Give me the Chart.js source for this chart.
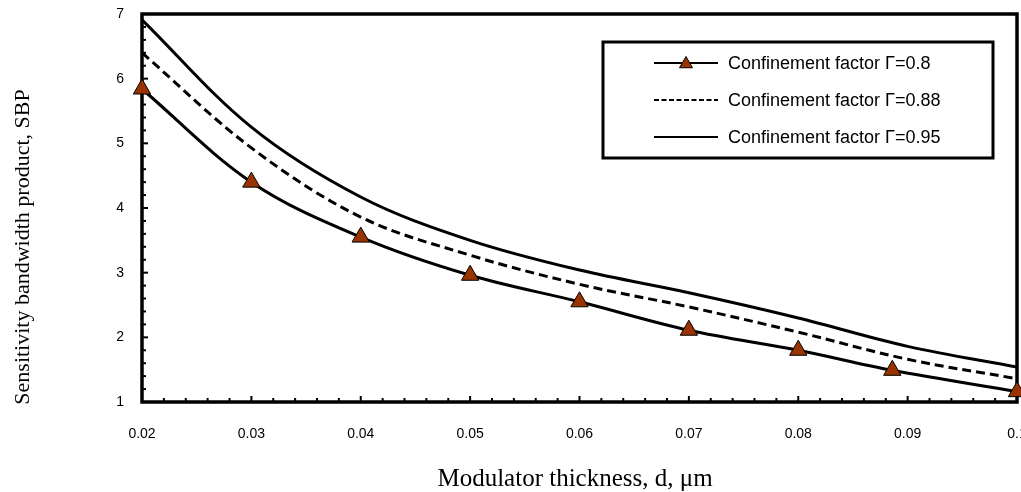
<!DOCTYPE html>
<html>
<head>
<meta charset="utf-8">
<script src="https://cdn.jsdelivr.net/npm/chart.js@4.4.1/dist/chart.umd.min.js"></script>
<style>
  html, body { margin: 0; padding: 0; background: #fff; overflow: hidden; }
  #wrap { position: relative; width: 1035px; height: 492px; }
</style>
</head>
<body>
<div id="wrap"><canvas id="sbpChart"></canvas></div>
<script>
// Modulator thickness (um) for the smooth curves
const thickness = [0.02, 0.03, 0.04, 0.05, 0.06, 0.07, 0.08, 0.09, 0.1];
// SBP for confinement factor 0.95 (solid) and 0.88 (dashed)
const sbp095 = [6.91, 5.25, 4.17, 3.50, 3.04, 2.69, 2.30, 1.86, 1.54];
const sbp088 = [6.40, 4.93, 3.86, 3.27, 2.82, 2.47, 2.08, 1.66, 1.36];
// Points with triangle markers, confinement factor 0.8
const thickness080 = [0.02, 0.03, 0.04, 0.05, 0.06, 0.07, 0.08, 0.0886, 0.1];
const sbp080 = [5.84, 4.40, 3.55, 2.96, 2.55, 2.11, 1.80, 1.49, 1.16];

const seriesLabels = [
  "Confinement factor \u0393=0.8",
  "Confinement factor \u0393=0.88",
  "Confinement factor \u0393=0.95",
];
const xTitle = "Modulator thickness, d, \u03bcm";
const yTitle = "Sensitivity bandwidth product, SBP";

const xMin = 0.02, xMax = 0.1, xStep = 0.01, xMinorStep = 0.002;
const yMin = 1, yMax = 7, yStep = 1, yMinorStep = 0.2;

const sansFont = "'Liberation Sans', Arial, sans-serif";
const serifFont = "'Liberation Serif', 'Times New Roman', serif";
const markerColor = "#993300";

function toPoints(xs, ys) {
  return xs.map((x, i) => ({ x: x, y: ys[i] }));
}

function drawTriangle(ctx, cx, cy, r) {
  ctx.beginPath();
  ctx.moveTo(cx, cy - r);
  ctx.lineTo(cx + r * 0.866, cy + r * 0.5);
  ctx.lineTo(cx - r * 0.866, cy + r * 0.5);
  ctx.closePath();
  ctx.fillStyle = markerColor;
  ctx.fill();
  ctx.lineWidth = 1;
  ctx.strokeStyle = "#000";
  ctx.stroke();
}

// Frame around the plot, inward tick marks and axis titles
const framePlugin = {
  id: "frame",
  beforeDatasetsDraw(chart) {
    const { ctx, chartArea: a, scales } = chart;
    ctx.save();
    ctx.strokeStyle = "#000";
    ctx.lineWidth = 2;
    const nY = Math.round((yMax - yMin) / yMinorStep);
    for (let i = 0; i <= nY; i++) {
      const py = scales.y.getPixelForValue(yMin + i * yMinorStep);
      const len = i % 5 === 0 ? 6 : 4;
      ctx.beginPath();
      ctx.moveTo(a.left, py);
      ctx.lineTo(a.left + len, py);
      ctx.stroke();
    }
    const nX = Math.round((xMax - xMin) / xMinorStep);
    for (let i = 0; i <= nX; i++) {
      const px = scales.x.getPixelForValue(xMin + i * xMinorStep);
      const len = i % 5 === 0 ? 6 : 4;
      ctx.beginPath();
      ctx.moveTo(px, a.bottom);
      ctx.lineTo(px, a.bottom - len);
      ctx.stroke();
    }
    ctx.lineWidth = 3.5;
    ctx.strokeRect(a.left, a.top, a.right - a.left, a.bottom - a.top);
    ctx.restore();
  },
  afterDraw(chart) {
    const ctx = chart.ctx;
    ctx.save();
    ctx.fillStyle = "#000";
    ctx.textAlign = "center";
    ctx.textBaseline = "middle";
    // x axis title
    ctx.font = "25px " + serifFont;
    ctx.fillText(xTitle, 575, 479);
    // y axis title
    ctx.font = "22px " + serifFont;
    ctx.translate(23, 247);
    ctx.rotate(-Math.PI / 2);
    ctx.fillText(yTitle, 0, 0);
    ctx.restore();
  },
};

// Legend box drawn inside the plot
const legendPlugin = {
  id: "legendBox",
  afterDatasetsDraw(chart) {
    const ctx = chart.ctx;
    const box = { left: 603, top: 42, right: 993, bottom: 158 };
    ctx.save();
    ctx.fillStyle = "#fff";
    ctx.fillRect(box.left, box.top, box.right - box.left, box.bottom - box.top);
    ctx.lineWidth = 3;
    ctx.strokeStyle = "#000";
    ctx.strokeRect(box.left, box.top, box.right - box.left, box.bottom - box.top);

    chart.data.datasets.forEach((ds, i) => {
      const rowY = 63 + i * 37;
      ctx.strokeStyle = "#000";
      ctx.lineWidth = 2;
      ctx.setLineDash(ds.borderDash ? [5, 2.5] : []);
      ctx.beginPath();
      ctx.moveTo(654, rowY);
      ctx.lineTo(718, rowY);
      ctx.stroke();
      ctx.setLineDash([]);
      if (ds.pointRadius > 0) drawTriangle(ctx, 686, rowY + 1, 7.5);
      ctx.fillStyle = "#000";
      ctx.font = "18px " + sansFont;
      ctx.textAlign = "left";
      ctx.textBaseline = "middle";
      ctx.fillText(ds.label, 728, rowY + 1);
    });
    ctx.restore();
  },
};

const ctxSbp = document.getElementById("sbpChart").getContext("2d");
const sbpChart = new Chart(ctxSbp, {
  type: "line",
  data: {
    datasets: [
      {
        label: seriesLabels[0],
        data: toPoints(thickness080, sbp080),
        borderColor: "#000",
        borderWidth: 3,
        tension: 0.35,
        pointStyle: "triangle",
        pointRadius: 10,
        pointBackgroundColor: markerColor,
        pointBorderColor: "#000",
        pointBorderWidth: 1,
        clip: false,
      },
      {
        label: seriesLabels[1],
        data: toPoints(thickness, sbp088),
        borderColor: "#000",
        borderWidth: 3,
        borderDash: [9, 5],
        tension: 0.35,
        pointRadius: 0,
      },
      {
        label: seriesLabels[2],
        data: toPoints(thickness, sbp095),
        borderColor: "#000",
        borderWidth: 3,
        tension: 0.35,
        pointRadius: 0,
      },
    ],
  },
  options: {
    responsive: true,
    maintainAspectRatio: false,
    animation: false,
    layout: { padding: { left: 0, right: 18, top: 14, bottom: 0 } },
    plugins: { legend: { display: false }, tooltip: { enabled: false } },
    scales: {
      x: {
        type: "linear",
        min: xMin,
        max: xMax,
        grid: { display: false, drawTicks: false },
        border: { display: false },
        ticks: {
          stepSize: xStep,
          autoSkip: false,
          maxRotation: 0,
          padding: 24,
          color: "#000",
          font: { family: sansFont, size: 14 },
          callback: (v) => String(Number(v.toFixed(2))),
        },
        afterFit: (scale) => {
          scale.height = 90;
          scale.paddingLeft = 0;
          scale.paddingRight = 0;
        },
      },
      y: {
        min: yMin,
        max: yMax,
        grid: { display: false, drawTicks: false },
        border: { display: false },
        ticks: {
          stepSize: yStep,
          padding: 18,
          color: "#000",
          font: { family: sansFont, size: 14 },
        },
        afterFit: (scale) => {
          scale.width = 142;
          scale.paddingTop = 0;
          scale.paddingBottom = 0;
        },
      },
    },
  },
  plugins: [framePlugin, legendPlugin],
});
</script>
</body>
</html>
